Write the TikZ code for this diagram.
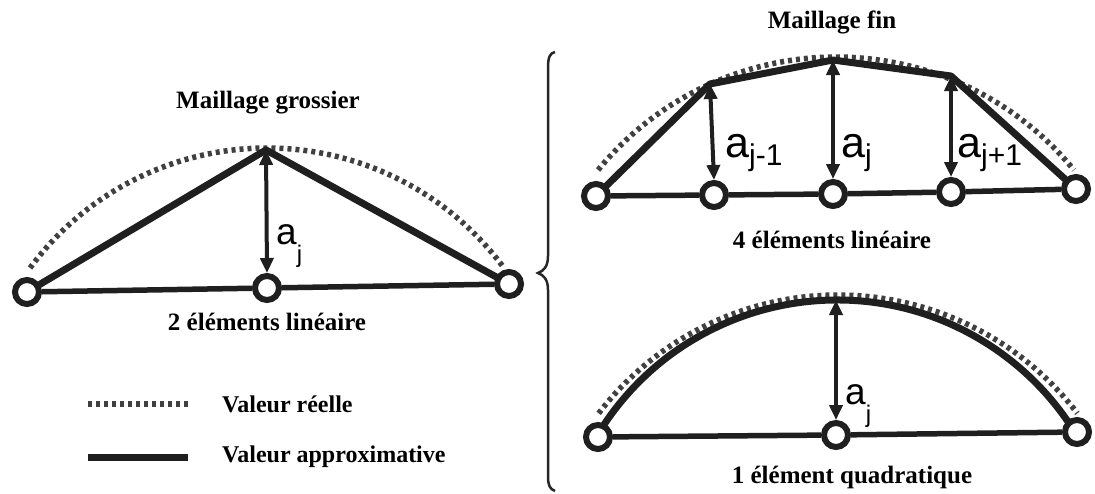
\documentclass[tikz,border=0pt]{standalone}
\usepackage{fontspec}
\setmainfont{Liberation Serif}
\newfontfamily\lsans{Liberation Sans}
\usetikzlibrary{arrows.meta}
\pgfdeclarelayer{bg}
\pgfsetlayers{bg,main}
\newcommand\smallsub[1]{\raisebox{-18pt}{\fontsize{24}{24}\selectfont #1}}
\newcommand\bigsub[1]{\raisebox{-8pt}{\fontsize{30}{30}\selectfont #1}}
\tikzset{
  ink/.style={draw=black!88},
  approx/.style={ink, line width=7pt, line join=round},
  basel/.style={ink, line width=5.5pt},
  real/.style={draw=black!75, line width=5.5pt, dash pattern=on 4pt off 4pt},
  nd/.style={circle, ink, line width=6pt, fill=white, minimum size=24pt, inner sep=0pt},
  dimarrow/.style={ink, line width=4pt, {Triangle[width=13pt,length=15pt]}-{Triangle[width=13pt,length=15pt]}},
  ttl/.style={font=\fontsize{25}{28}\selectfont\bfseries, inner sep=0pt},
  captxt/.style={font=\fontsize{25}{28}\selectfont\bfseries, inner sep=0pt},
  leg/.style={font=\fontsize{24}{27}\selectfont\bfseries, inner sep=0pt, anchor=base west},
  lblS/.style={font=\lsans\fontsize{37}{39}\selectfont, anchor=base west, inner sep=0pt},
  lblB/.style={font=\lsans\fontsize{43}{45}\selectfont, anchor=base west, inner sep=0pt},
}
\begin{document}
\begin{tikzpicture}[x=1pt,y=1pt]
\useasboundingbox (0,0) rectangle (1095,-493);

% ---------- left: coarse mesh ----------
\node[ttl] (tg) at (268,-103) {Maillage grossier};
\node[nd] (L1) at (27,-292) {};
\node[nd] (L2) at (267,-288) {};
\node[nd] (L3) at (509,-284) {};
\coordinate (LA) at (266,-150);
\node[captxt] (cg) at (267,-322) {2 éléments linéaire};
\node[lblS] (la) at (276,-244) {a\smallsub{j}};

% ---------- top right: fine mesh ----------
\node[ttl] (tf) at (832,-22) {Maillage fin};
\node[nd] (F1) at (596,-196) {};
\node[nd] (F2) at (714,-195) {};
\node[nd] (F3) at (833,-194) {};
\node[nd] (F4) at (951,-192) {};
\node[nd] (F5) at (1076,-189) {};
\coordinate (FA) at (710,-84);
\coordinate (FB) at (833,-60);
\coordinate (FC) at (951,-76);
\node[captxt] (cf) at (832,-240) {4 éléments linéaire};
\node[lblB] (fa1) at (725,-157) {a\bigsub{j-1}};
\node[lblB] (fa2) at (841,-157) {a\bigsub{j}};
\node[lblB] (fa3) at (957,-157) {a\bigsub{j+1}};

% ---------- bottom right: quadratic ----------
\node[nd] (Q1) at (598,-437) {};
\node[nd] (Q2) at (836,-435) {};
\node[nd] (Q3) at (1077,-432) {};
\coordinate (QA) at (836,-300);
\node[captxt] (cq) at (852,-477) {1 élément quadratique};
\node[lblS] (qa) at (845,-404) {a\smallsub{j}};

% ---------- legend ----------
\coordinate (R1) at (88,-404);
\coordinate (R2) at (188,-404);
\coordinate (P1) at (88,-457);
\coordinate (P2) at (188,-457);
\node[leg] (lr) at (222,-412) {Valeur réelle};
\node[leg] (lp) at (222,-462) {Valeur approximative};

\begin{pgfonlayer}{bg}
  % real values (dotted arcs)
  \draw[real] (267,-442) ++(143.7:294pt) arc[start angle=143.7, end angle=36.3, radius=294pt];
  \draw[real] (836,-364) ++(140.8:307pt) arc[start angle=140.8, end angle=39.2, radius=307pt];
  \draw[real] (838,-596.3) ++(142.6:301.3pt) arc[start angle=142.6, end angle=37.4, radius=301.3pt];
  % approximations
  \draw[approx] (L1.center) -- (LA) -- (L3.center);
  \draw[approx] (F1.center) -- (FA) -- (FB) -- (FC) -- (F5.center);
  \draw[approx] (837,-580.1) ++(148.6:280.1pt) arc[start angle=148.6, end angle=31.4, radius=280.1pt];
  % base lines
  \draw[basel] (L1) -- (L2) -- (L3);
  \draw[basel] (F1) -- (F2) -- (F3) -- (F4) -- (F5);
  \draw[basel] (Q1) -- (Q2) -- (Q3);
  % dimension arrows
  \draw[dimarrow] (LA) -- (L2.north);
  \draw[dimarrow] (FA) -- (F2.north);
  \draw[dimarrow] (FB) -- (F3.north);
  \draw[dimarrow] (FC) -- (F4.north);
  \draw[dimarrow] (QA) -- (Q2.north);
  % legend lines
  \draw[real] (R1) -- (R2);
  \draw[ink, line width=7pt] (P1) -- (P2);
\end{pgfonlayer}

% brace
\draw[draw=black!85, line width=2.5pt] (555,-52) .. controls (550,-53) and (548,-57) .. (548,-68)
  -- (548,-256) .. controls (548,-266) and (544,-271) .. (538,-273)
  .. controls (544,-275) and (548,-280) .. (548,-290)
  -- (548,-476) .. controls (548,-486) and (550,-489) .. (555,-491);
\end{tikzpicture}
\end{document}
